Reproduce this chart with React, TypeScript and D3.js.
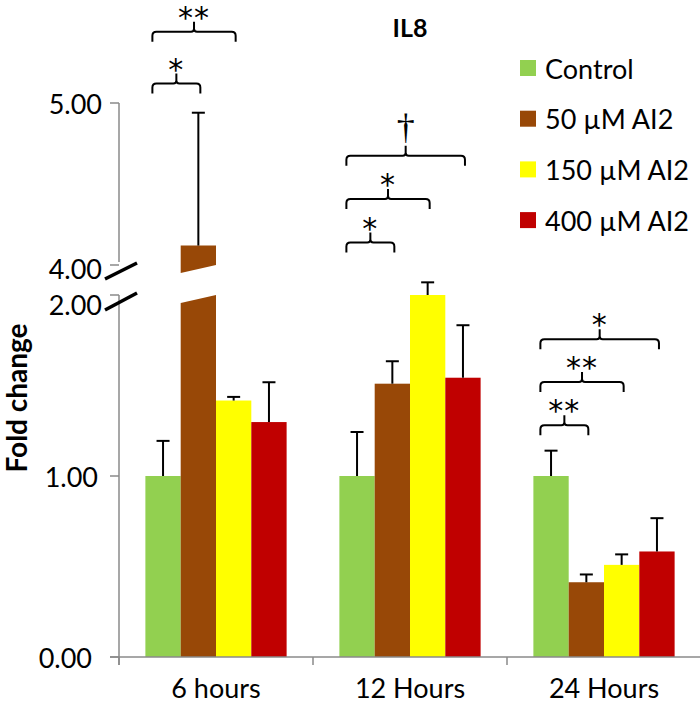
import React from 'react';
import * as d3 from 'd3';

const groups = ['6 hours', '12 Hours', '24 Hours'];
const seriesNames = ['Control', '50 µM AI2', '150 µM AI2', '400 µM AI2'];
const seriesColors = ['#92D050', '#984807', '#FFFF00', '#C00000'];
const controlVals = [1.0, 1.0, 1.0];
const ai50Vals = [4.12, 1.51, 0.413];
const ai150Vals = [1.417, 2.0, 0.509];
const ai400Vals = [1.298, 1.543, 0.583];
const controlErr = [0.194, 0.243, 0.14];
const ai50Err = [0.82, 0.124, 0.043];
const ai150Err = [0.02, 0.07, 0.058];
const ai400Err = [0.22, 0.29, 0.184];
const lowerTicks = [0, 1, 2];
const upperTicks = [4, 5];
const tickLabels = (v: number) => v.toFixed(2);

// significance brackets: group index, from series, to series, label, axis segment, level (value units)
const brackets = [
  { g: 0, from: 0, to: 1, label: '*', axis: 'upper', level: 5.12 },
  { g: 0, from: 0, to: 2, label: '**', axis: 'upper', level: 5.44 },
  { g: 1, from: 0, to: 1, label: '*', axis: 'lower', level: 2.29 },
  { g: 1, from: 0, to: 2, label: '*', axis: 'lower', level: 2.53 },
  { g: 1, from: 0, to: 3, label: '†', axis: 'lower', level: 2.77 },
  { g: 2, from: 0, to: 1, label: '**', axis: 'lower', level: 1.28 },
  { g: 2, from: 0, to: 2, label: '**', axis: 'lower', level: 1.52 },
  { g: 2, from: 0, to: 3, label: '*', axis: 'lower', level: 1.755 },
];

const values = [controlVals, ai50Vals, ai150Vals, ai400Vals];
const errors = [controlErr, ai50Err, ai150Err, ai400Err];

const FONT = 'Lato, "Open Sans", sans-serif';

export default function App() {
  const W = 700, H = 703;
  const axisX = 119;
  const base = 657;
  const x0 = d3.scaleBand<string>().domain(groups).range([axisX, 701]).paddingInner(0.272).paddingOuter(0.136);
  const x1 = d3.scaleBand<string>().domain(seriesNames).range([0, x0.bandwidth()]);
  const bw = x1.bandwidth();
  const yLow = d3.scaleLinear().domain([0, 2]).range([base, 295]);
  const yUp = d3.scaleLinear().domain([4, 5]).range([265, 103]);
  const slant = 8;
  const axisColor = '#8a8a8a';

  const bars: any[] = [];
  const errs: any[] = [];
  groups.forEach((g, gi) => {
    seriesNames.forEach((s, si) => {
      const v = values[si][gi];
      const e = errors[si][gi];
      const bx = (x0(g) as number) + (x1(s) as number);
      const cx = bx + bw / 2;
      if (v > 2) {
        const lowerPts = [[bx, base], [bx + bw, base], [bx + bw, yLow(2)], [bx, yLow(2) + slant]];
        const upperPts = [[bx, yUp(v)], [bx + bw, yUp(v)], [bx + bw, yUp(4)], [bx, yUp(4) + slant]];
        bars.push(<polygon key={`bl${gi}${si}`} points={lowerPts.map(p => p.join(',')).join(' ')} fill={seriesColors[si]} />);
        bars.push(<polygon key={`bu${gi}${si}`} points={upperPts.map(p => p.join(',')).join(' ')} fill={seriesColors[si]} />);
        errs.push(
          <g key={`e${gi}${si}`} stroke="#000" strokeWidth={2}>
            <line x1={cx} x2={cx} y1={yUp(v)} y2={yUp(v + e)} />
            <line x1={cx - 6.5} x2={cx + 6.5} y1={yUp(v + e)} y2={yUp(v + e)} />
          </g>
        );
      } else {
        bars.push(<rect key={`b${gi}${si}`} x={bx} y={yLow(v)} width={bw} height={base - yLow(v)} fill={seriesColors[si]} />);
        errs.push(
          <g key={`e${gi}${si}`} stroke="#000" strokeWidth={2}>
            <line x1={cx} x2={cx} y1={yLow(v)} y2={yLow(v + e)} />
            <line x1={cx - 6.5} x2={cx + 6.5} y1={yLow(v + e)} y2={yLow(v + e)} />
          </g>
        );
      }
    });
  });

  const bracketEls = brackets.map((b, i) => {
    const gx = x0(groups[b.g]) as number;
    const left = gx + (x1(seriesNames[b.from]) as number) + 7;
    const right = gx + (x1(seriesNames[b.to]) as number) + bw / 2 + 2;
    const y = b.axis === 'upper' ? yUp(b.level) : yLow(b.level);
    const mid = (left + right) / 2;
    const r = 4;
    const d = `M${left},${y + 10} L${left},${y + r} Q${left},${y} ${left + r},${y} L${mid - 3},${y} Q${mid},${y} ${mid},${y - 3} L${mid},${y - 10} M${mid},${y - 3} Q${mid},${y} ${mid + 3},${y} L${right - r},${y} Q${right},${y} ${right},${y + r} L${right},${y + 10}`;
    const isDagger = b.label === '†';
    return (
      <g key={`br${i}`}>
        <path d={d} fill="none" stroke="#000" strokeWidth={2} />
        <text x={mid} y={isDagger ? y - 17 : y - 4} textAnchor="middle" fontFamily={isDagger ? '"Liberation Serif", serif' : '"DejaVu Sans", sans-serif'} fontSize={isDagger ? 36 : 30} letterSpacing={isDagger ? 0 : 1} fill="#000">{b.label}</text>
      </g>
    );
  });

  const lowerLabelX = [92, 98, 102];

  return (
    <svg width={W} height={H} style={{ position: 'absolute', left: 0, top: 0, background: '#fff' }}>
      <rect width={W} height={H} fill="#fff" />
      {/* title */}
      <text x={410} y={37} textAnchor="middle" fontFamily={FONT} fontWeight="bold" fontSize={25}>IL8</text>
      {/* y axis title */}
      <text transform={`translate(27,398) rotate(-90)`} textAnchor="middle" fontFamily={FONT} fontWeight="bold" fontSize={28}>Fold change</text>
      {bars}
      {errs}
      {/* axes */}
      <g stroke={axisColor} strokeWidth={1.5}>
        <line x1={axisX} x2={axisX} y1={yLow(2)} y2={base + 8} />
        <line x1={axisX} x2={axisX} y1={yUp(5)} y2={yUp(4) - 3} />
        {lowerTicks.map(t => <line key={`lt${t}`} x1={110} x2={axisX} y1={yLow(t)} y2={yLow(t)} />)}
        {upperTicks.map(t => <line key={`ut${t}`} x1={110} x2={axisX} y1={yUp(t)} y2={yUp(t)} />)}
        <line x1={110} x2={700} y1={base} y2={base} />
        {groups.map(g => <line key={`xt${g}`} x1={x0(g) as number - x0.step() * 0.136} x2={x0(g) as number - x0.step() * 0.136} y1={base} y2={base + 8} />)}
      </g>
      {lowerTicks.map((t, i) => (
        <text key={`ll${t}`} x={lowerLabelX[i]} y={yLow(t) + (t === 2 ? 9 : 0)} textAnchor="end" dominantBaseline="central" fontFamily={FONT} fontSize={27}>{tickLabels(t)}</text>
      ))}
      {upperTicks.map(t => (
        <text key={`ul${t}`} x={102} y={yUp(t) + (t === 4 ? 3 : 0)} textAnchor="end" dominantBaseline="central" fontFamily={FONT} fontSize={27}>{tickLabels(t)}</text>
      ))}
      {/* break marks */}
      <g stroke="#000" strokeWidth={3.5}>
        <line x1={105} y1={yUp(4) + 14} x2={137} y2={yUp(4) - 2} />
        <line x1={105} y1={yLow(2) + 15} x2={137} y2={yLow(2) - 2} />
      </g>
      {bracketEls}
      {groups.map(g => (
        <text key={`xl${g}`} x={(x0(g) as number) + x0.bandwidth() / 2} y={687} textAnchor="middle" dominantBaseline="central" fontFamily={FONT} fontSize={27}>{g}</text>
      ))}
      {/* legend */}
      {seriesNames.map((s, i) => (
        <g key={`lg${s}`} transform={`translate(520,${68 + i * 50.7})`}>
          <rect x={0} y={-8} width={16} height={16} fill={seriesColors[i]} />
          <text x={25} y={0} dominantBaseline="central" fontFamily={FONT} fontSize={27}>{s}</text>
        </g>
      ))}
    </svg>
  );
}
